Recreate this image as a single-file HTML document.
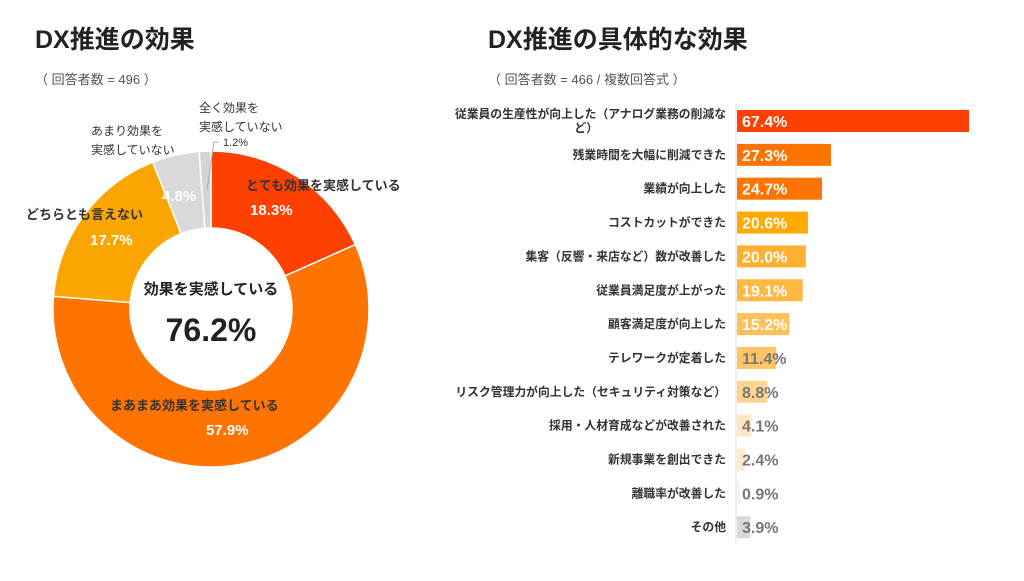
<!DOCTYPE html>
<html><head><meta charset="utf-8"><style>
body{margin:0;width:1024px;height:576px;background:#fff;overflow:hidden;font-family:"Liberation Sans","Noto Sans CJK JP",sans-serif;color:#333}
svg text{font-family:"Liberation Sans","Noto Sans CJK JP",sans-serif}
</style></head><body>
<svg width="1024" height="576">
<text x="35" y="48" font-size="25" font-weight="bold" fill="#222">DX推進の効果</text>
<text x="35" y="84" font-size="13" fill="#555">（ 回答者数 = 496 ）</text>
<text x="488" y="48" font-size="25" font-weight="bold" fill="#222">DX推進の具体的な効果</text>
<text x="488" y="84" font-size="13" fill="#555">（ 回答者数 = 466 / 複数回答式 ）</text>
<g id="pie"></g>
<g id="bars"></g>
<g font-size="13" font-weight="bold" fill="#333">
<text x="246" y="190">とても効果を実感している</text>
<text x="250" y="215" fill="#fff" font-size="15">18.3%</text>
<text x="110" y="410">まあまあ効果を実感している</text>
<text x="206" y="435" fill="#fff" font-size="15">57.9%</text>
<text x="26" y="219">どちらとも言えない</text>
<text x="90" y="245" fill="#fff" font-size="15">17.7%</text>
<text x="162" y="201" fill="#fff" font-size="15">4.8%</text>
<text x="91" y="135" font-weight="normal" font-size="12">あまり効果を</text>
<text x="91" y="154" font-weight="normal" font-size="12">実感していない</text>
<text x="199" y="112" font-weight="normal" font-size="12">全く効果を</text>
<text x="199" y="131" font-weight="normal" font-size="12">実感していない</text>
<text x="223" y="146" font-weight="normal" font-size="11">1.2%</text>
<path d="M219 142 L214 142 L207 190" stroke="#aaa" fill="none"/>
<text x="211" y="294" text-anchor="middle" font-size="15" fill="#222">効果を実感している</text>
<text x="211" y="341" text-anchor="middle" font-size="32" fill="#222">76.2%</text>
</g>
</svg>
<script>
const pieValues=[18.3,57.9,17.7,4.8,1.2];
const pieNames=['very','somewhat','neutral','not-much','none'];
const pieColors=['#ff4000','#ff7300','#fba600','#d9d9d9','#d4d4d4'];
const barCategories=['従業員の生産性が向上した（アナログ業務の削減など）','残業時間を大幅に削減できた','業績が向上した','コストカットができた','集客（反響・来店など）数が改善した','従業員満足度が上がった','顧客満足度が向上した','テレワークが定着した','リスク管理力が向上した（セキュリティ対策など）','採用・人材育成などが改善された','新規事業を創出できた','離職率が改善した','その他'];
const barValues=[67.4,27.3,24.7,20.6,20.0,19.1,15.2,11.4,8.8,4.1,2.4,0.9,3.9];
const barColors=['#ff4000','#ff7300','#ff7300','#ffaa00','#ffb030','#ffb844','#ffc059','#ffc566','#ffd48e','#ffe7c2','#ffeacb','#fff0dc','#d9d9d9'];
const NS='http://www.w3.org/2000/svg';
const cx=211,cy=309,R=158,r=81;
const pie=document.getElementById('pie');
const tot=pieValues.reduce((a,b)=>a+b,0);
let a0=0;
function pt(a,rad){return [cx+rad*Math.sin(a),cy-rad*Math.cos(a)];}
pieValues.forEach((v,i)=>{
 const a1=a0+v/tot*2*Math.PI;
 const [x1,y1]=pt(a0,R),[x2,y2]=pt(a1,R),[x3,y3]=pt(a1,r),[x4,y4]=pt(a0,r);
 const lg=(a1-a0)>Math.PI?1:0;
 const p=document.createElementNS(NS,'path');
 p.setAttribute('d',`M${x1} ${y1}A${R} ${R} 0 ${lg} 1 ${x2} ${y2}L${x3} ${y3}A${r} ${r} 0 ${lg} 0 ${x4} ${y4}Z`);
 p.setAttribute('fill',pieColors[i]);p.setAttribute('stroke','#fff');p.setAttribute('stroke-width','1.5');
 
 
 pie.appendChild(p);a0=a1;
});
const bars=document.getElementById('bars');
const x0=736,scale=232/67.4,y0=121,step=33.85,bh=22;
const xS=v=>x0+v*scale, yS=i=>y0+i*step;
const ax=document.createElementNS(NS,'line');
ax.setAttribute('x1',x0);ax.setAttribute('x2',x0);ax.setAttribute('y1',103);ax.setAttribute('y2',545);ax.setAttribute('stroke','#ddd');


bars.appendChild(ax);
barCategories.forEach((c,i)=>{
 const y=yS(i);
 const rc=document.createElementNS(NS,'rect');
 rc.setAttribute('x',x0+1);rc.setAttribute('y',y-bh/2);rc.setAttribute('width',Math.max(1,xS(barValues[i])-x0));rc.setAttribute('height',bh);rc.setAttribute('fill',barColors[i]);
 
 
 bars.appendChild(rc);
 const t=document.createElementNS(NS,'text');
 t.setAttribute('x',742);t.setAttribute('y',y+6);t.setAttribute('font-size','16');t.setAttribute('font-weight','bold');
 t.setAttribute('fill',i<7?'#fff':'#777');t.textContent=barValues[i].toFixed(1)+'%';
 
 
 bars.appendChild(t);
 const lines=i===0?['従業員の生産性が向上した（アナログ業務の削減な','ど）']:[c];
 lines.forEach((ln,k)=>{
  const l=document.createElementNS(NS,'text');
  l.setAttribute('x',726);l.setAttribute('y',i===0?y-3+k*14:y+4);l.setAttribute('text-anchor','end');
  l.setAttribute('font-size','11.8');l.setAttribute('font-weight','bold');l.setAttribute('fill','#333');
  if(k===1){l.setAttribute('x',598);}
  l.textContent=ln;
  
  
  bars.appendChild(l);
 });
});
</script>
</body></html>
